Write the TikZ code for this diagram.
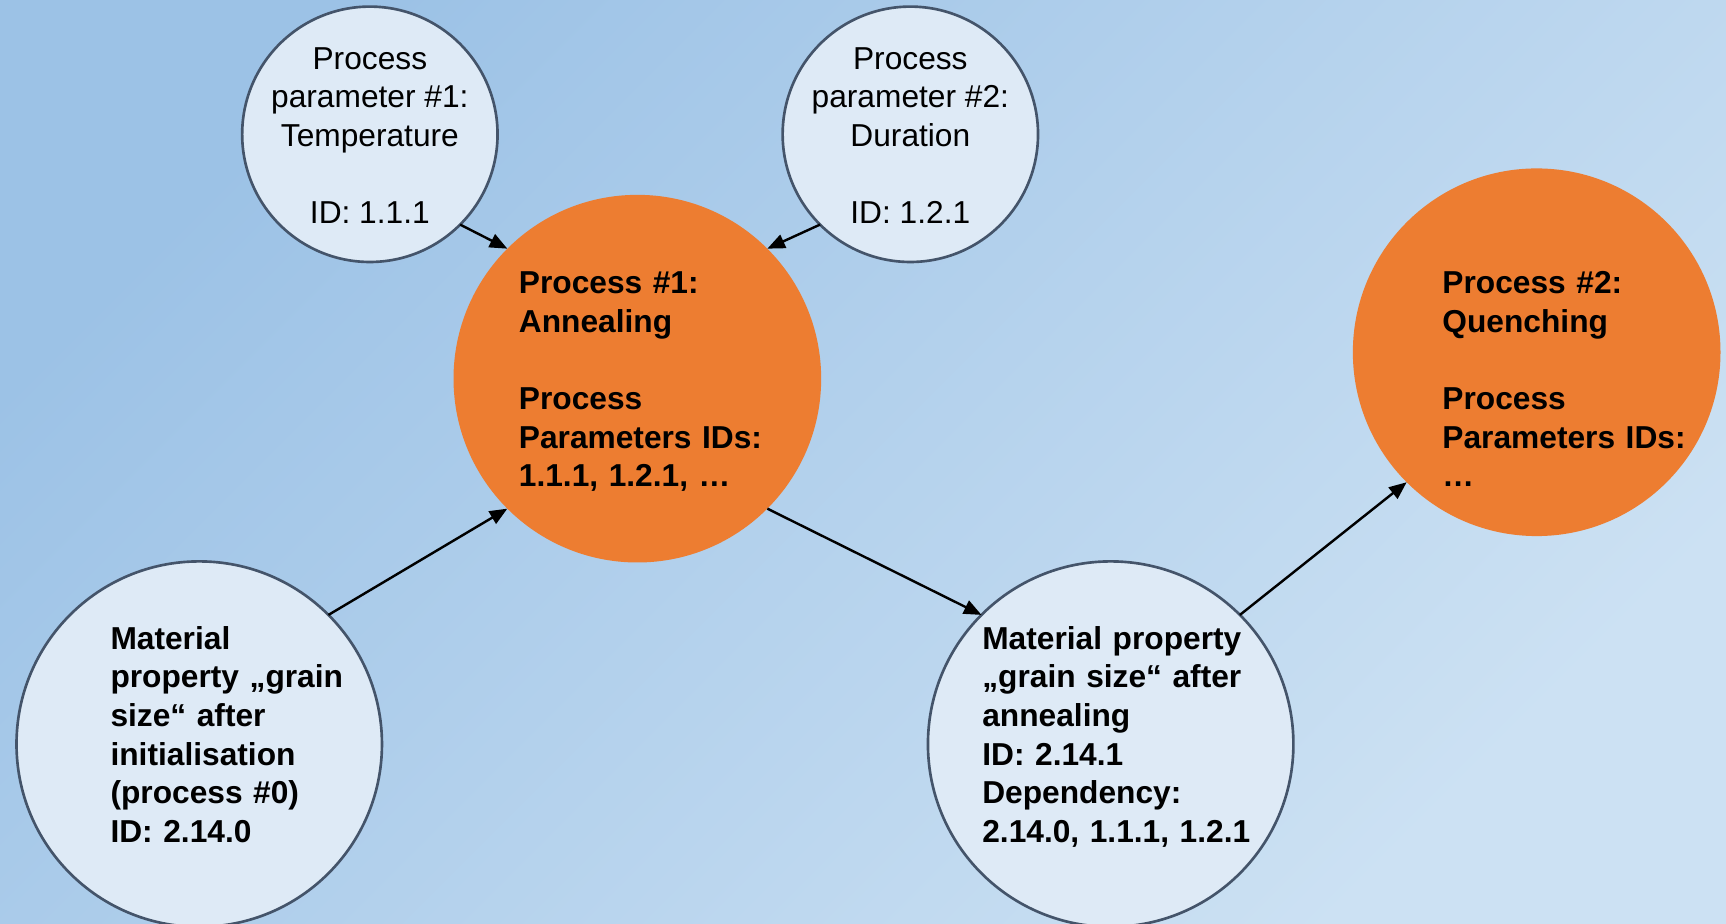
\documentclass[tikz,border=0pt]{standalone}
\usepackage{fontspec}
\setmainfont{Liberation Sans}
\usetikzlibrary{arrows.meta}

\definecolor{bgdark}{HTML}{9CC2E6}
\definecolor{bglight}{HTML}{CCE1F3}
\definecolor{procorange}{HTML}{ED7D31}
\definecolor{paramfill}{HTML}{DEEAF6}
\definecolor{ringedge}{HTML}{44546A}

\tikzset{
  txtfont/.style={font=\fontsize{14.4}{17.5}\selectfont},
  paramnode/.style={circle, draw=ringedge, line width=1.2pt, fill=paramfill,
    minimum size=116pt, inner sep=0pt, outer sep=0pt},
  paramtext/.style={txtfont, align=center, inner sep=0pt},
  procnode/.style={circle, fill=procorange, minimum size=167pt, inner sep=0pt, outer sep=0pt},
  matnode/.style={circle, draw=ringedge, line width=1.2pt, fill=paramfill,
    minimum size=166pt, inner sep=0pt, outer sep=0pt},
  bodytext/.style={font=\fontsize{14.4}{17.5}\selectfont\bfseries,
    text width=140pt, align=left, inner sep=0pt, anchor=base west},
  link/.style={line width=1.1pt, -{Triangle[length=8pt,width=6.5pt]}}
}

\begin{document}
\begin{tikzpicture}[x=0.5pt, y=-0.5pt]
  \useasboundingbox (0,0) rectangle (1568,839);
  % background
  \shade[top color=bgdark, bottom color=bglight, shading angle=45]
    (0,0) rectangle (1568,839);

  % process parameters
  \node[paramnode] (p1) at (336,122) {};
  \node[paramtext] (p1text) at (336,123)
    {Process\\parameter \#1:\\Temperature\\[17.5pt]ID: 1.1.1};
  \node[paramnode] (p2) at (827,122) {};
  \node[paramtext] (p2text) at (827,123)
    {Process\\parameter \#2:\\Duration\\[17.5pt]ID: 1.2.1};

  % processes
  \node[procnode] (anneal) at (579,344) {};
  \node[bodytext] (annealtext) at (471,267)
    {Process \#1:\\Annealing\\[17.5pt]Process\\Parameters IDs:\\1.1.1, 1.2.1, …};
  \node[procnode] (quench) at (1396,320) {};
  \node[bodytext] (quenchtext) at (1310,267)
    {Process \#2:\\Quenching\\[17.5pt]Process\\Parameters IDs:\\…};

  % material properties
  \node[matnode] (mat0) at (181,676) {};
  \node[bodytext] (mat0text) at (100,590)
    {Material\\property „grain\\size“ after\\initialisation\\(process \#0)\\ID: 2.14.0};
  \node[matnode] (mat1) at (1009,676) {};
  \node[bodytext] (mat1text) at (892,590)
    {Material property\\„grain size“ after\\annealing\\ID: 2.14.1\\Dependency:\\2.14.0, 1.1.1, 1.2.1};

  % connectors
  \draw[link] (p1.-45) -- (anneal.135);
  \draw[link] (p2.-135) -- (anneal.45);
  \draw[link] (mat0.45) -- (anneal.-135);
  \draw[link] (anneal.-45) -- (mat1.135);
  \draw[link] (mat1.45) -- (quench.-135);
\end{tikzpicture}
\end{document}
